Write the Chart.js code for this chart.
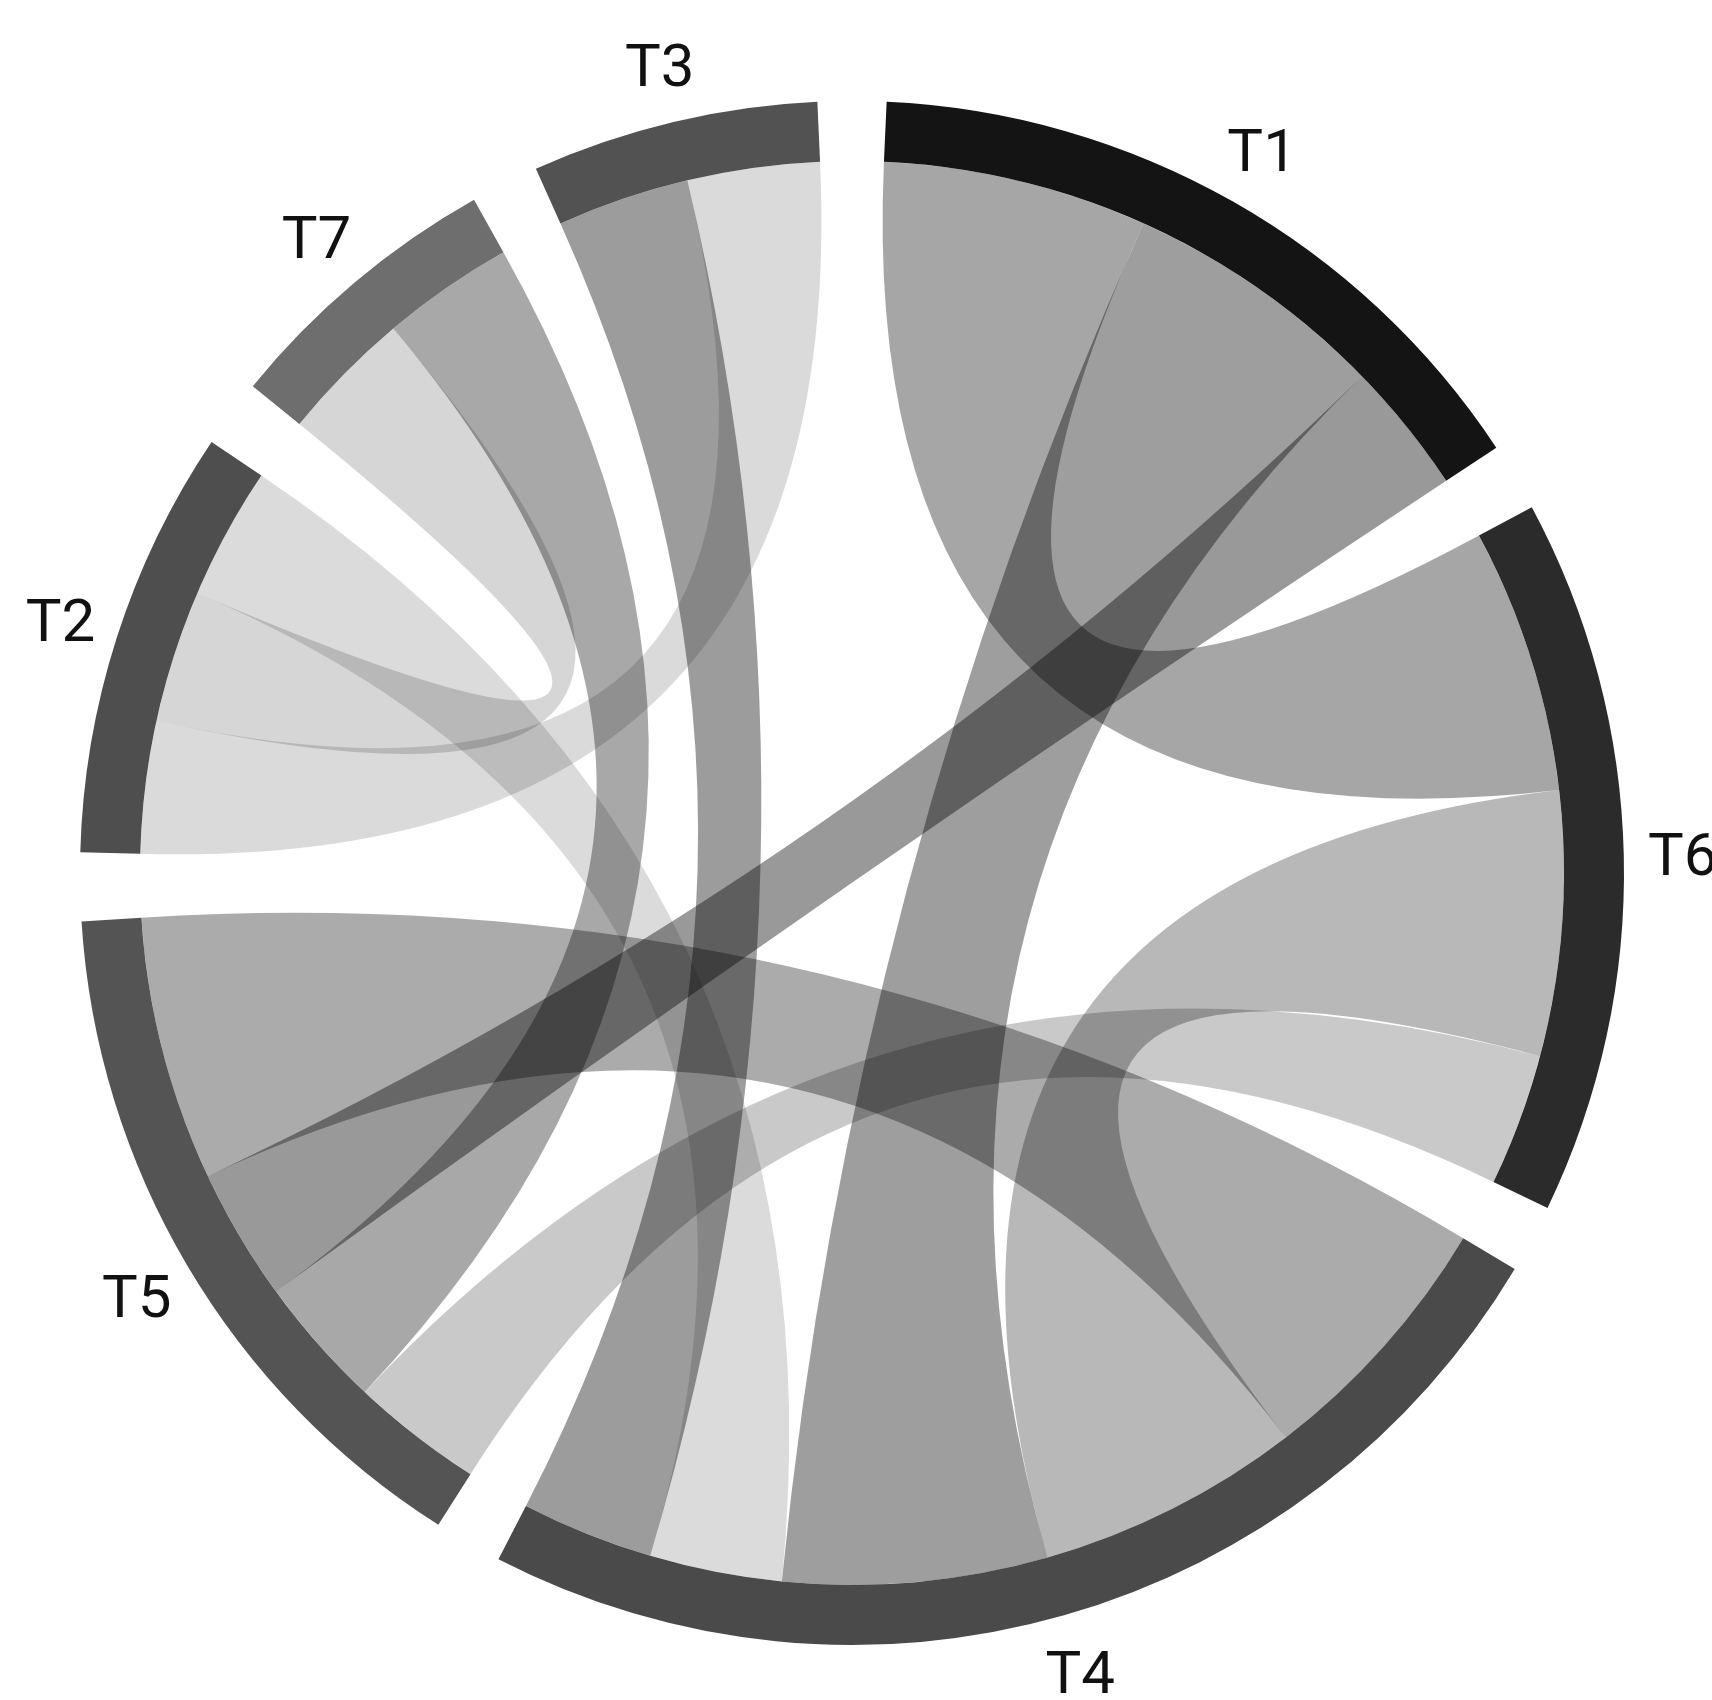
<!DOCTYPE html>
<html>
<head>
<meta charset="utf-8">
<title>Chord diagram</title>
<script src="https://cdn.jsdelivr.net/npm/chart.js@4.4.1/dist/chart.umd.min.js"></script>
<style>
    html, body { margin: 0; padding: 0; background: #fff; }
    #wrap { width: 1712px; height: 1700px; position: relative; }
</style>
</head>
<body>
<div id="wrap"><canvas id="chord"></canvas></div>
<script>
// groups, clockwise from the top
const groupNames = ["T1", "T6", "T4", "T5", "T2", "T7", "T3"];

// links between groups (undirected)
const linkFrom  = ["T1", "T1", "T1", "T6", "T6", "T4", "T4", "T4", "T5", "T2", "T2"];
const linkTo    = ["T6", "T4", "T5", "T4", "T5", "T5", "T2", "T3", "T7", "T3", "T7"];
const linkValue = [2, 2, 1, 2, 1, 2, 1, 1, 1, 1, 1];

// order of the partners along each group arc, clockwise
const partnerOrder = {
    T1: ["T6", "T4", "T5"],
    T6: ["T1", "T4", "T5"],
    T4: ["T5", "T6", "T1", "T2", "T3"],
    T5: ["T6", "T7", "T1", "T4"],
    T2: ["T3", "T7", "T4"],
    T7: ["T2", "T5"],
    T3: ["T4", "T2"]
};

// styles
const groupColors = ["#141414", "#2b2b2b", "#4a4a4a", "#545454", "#4e4e4e", "#6e6e6e", "#525252"];
const linkAlpha = [0.35, 0.38, 0.40, 0.28, 0.21, 0.33, 0.14, 0.39, 0.34, 0.145, 0.16];
const padShare = 0.1;

function linkBetween(a, b) {
    for (let i = 0; i < linkFrom.length; i++) {
        if ((linkFrom[i] == a && linkTo[i] == b) || (linkFrom[i] == b && linkTo[i] == a)) return i;
    }
    return -1;
}

let groupTotals = groupNames.map(g => partnerOrder[g].reduce((s, p) => s + linkValue[linkBetween(g, p)], 0));
let valueSum = groupTotals.reduce((a, b) => a + b, 0);
let gapValue = valueSum * padShare / (1 - padShare) / groupNames.length;

let ringData = [],
    ringColors = [],
    ringLabels = [];
groupNames.forEach((g, i) => {
    ringData.push(groupTotals[i], gapValue);
    ringColors.push(groupColors[i], "rgba(0,0,0,0)");
    ringLabels.push(g, "");
});
let ringTotal = valueSum + gapValue * groupNames.length;

const chordPlugin = {
    id: "chordRibbons",
    beforeDatasetsDraw(chart) {
        const meta = chart.getDatasetMeta(0);
        const ctx = chart.ctx;
        let ends = {};
        groupNames.forEach((g, i) => {
            const arc = meta.data[2 * i];
            const k = (arc.endAngle - arc.startAngle) / groupTotals[i];
            let a = arc.startAngle;
            partnerOrder[g].forEach(p => {
                const li = linkBetween(g, p);
                const a1 = a + k * linkValue[li];
                ends[li + "-" + g] = [a, a1];
                a = a1;
            });
        });
        const arc0 = meta.data[0];
        const cx = arc0.x, cy = arc0.y, r = arc0.innerRadius;
        ctx.save();
        linkFrom.forEach((f, i) => {
            const s = ends[i + "-" + f],
                  t = ends[i + "-" + linkTo[i]];
            ctx.beginPath();
            ctx.moveTo(cx + r * Math.cos(s[0]), cy + r * Math.sin(s[0]));
            ctx.arc(cx, cy, r, s[0], s[1]);
            ctx.quadraticCurveTo(cx, cy, cx + r * Math.cos(t[0]), cy + r * Math.sin(t[0]));
            ctx.arc(cx, cy, r, t[0], t[1]);
            ctx.quadraticCurveTo(cx, cy, cx + r * Math.cos(s[0]), cy + r * Math.sin(s[0]));
            ctx.closePath();
            ctx.fillStyle = "rgba(0,0,0," + linkAlpha[i] + ")";
            ctx.fill();
        });
        ctx.restore();
    },
    afterDatasetsDraw(chart) {
        const meta = chart.getDatasetMeta(0);
        const ctx = chart.ctx;
        ctx.save();
        ctx.fillStyle = "#111";
        ctx.font = "60px Roboto, 'Noto Sans', sans-serif";
        ctx.textAlign = "center";
        ctx.textBaseline = "alphabetic";
        groupNames.forEach((g, i) => {
            const arc = meta.data[2 * i];
            const mid = (arc.startAngle + arc.endAngle) / 2;
            const lr = arc.outerRadius + 59;
            ctx.fillText(g, arc.x + lr * Math.cos(mid), arc.y + lr * Math.sin(mid) + 21);
        });
        ctx.restore();
    }
};

new Chart(document.getElementById("chord"), {
    type: "doughnut",
    data: {
        labels: ringLabels,
        datasets: [{
            data: ringData,
            backgroundColor: ringColors,
            borderWidth: 0,
            hoverOffset: 0
        }]
    },
    options: {
        responsive: true,
        maintainAspectRatio: false,
        animation: false,
        devicePixelRatio: 1,
        events: [],
        rotation: gapValue / 2 * 360 / ringTotal,
        cutout: 712,
        layout: { padding: { left: 80, right: 88, top: 101, bottom: 55 } },
        plugins: {
            legend: { display: false },
            tooltip: { enabled: false }
        }
    },
    plugins: [chordPlugin]
});
</script>
</body>
</html>
